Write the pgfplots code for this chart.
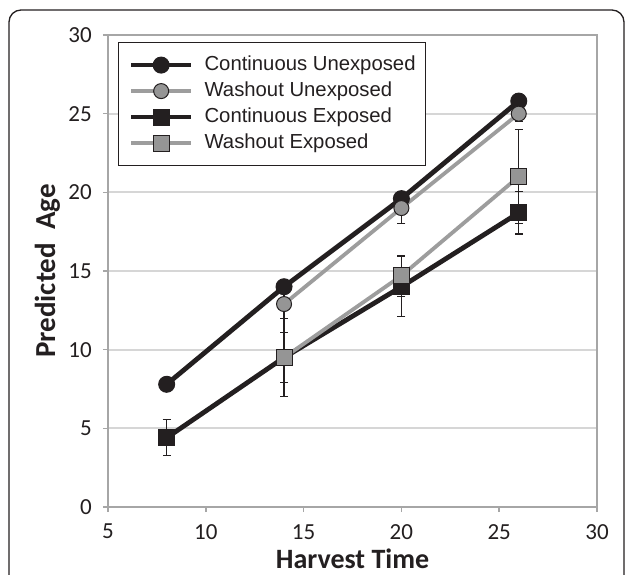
\documentclass[border=0pt]{standalone}
\usepackage{fontspec}
\setmainfont{Carlito}
\newfontfamily\arial{Liberation Sans}
\usepackage{pgfplots}
\pgfplotsset{compat=1.18}

\definecolor{axgray}{HTML}{A6A6A6}
\definecolor{gridgray}{HTML}{D6D6D6}
\definecolor{darkline}{HTML}{231F20}
\definecolor{lightline}{HTML}{9D9D9D}
\definecolor{markgray}{HTML}{959595}

\begin{document}
\begin{tikzpicture}[x=1pt,y=1pt]
\useasboundingbox (0,0) rectangle (627,574);
% outer frame, open at the bottom (cut by the page)
\draw[line width=1.3pt, darkline, rounded corners=12pt] (9,-30) -- (9,564) -- (624,564) -- (624,-30);
\begin{axis}[
  at={(108pt,67pt)}, anchor=south west,
  scale only axis, width=489pt, height=472pt,
  xmin=5, xmax=30, ymin=0, ymax=30,
  xtick={5,10,...,30}, ytick={0,5,...,30},
  axis line style={axgray, line width=2pt},
  ymajorgrids, grid style={gridgray, line width=1.8pt},
  tick align=outside, xtick pos=bottom, ytick pos=left,
  major tick length=5pt, tick style={axgray, line width=1.5pt},
  /pgf/number format/assume math mode=true,
  ticklabel style={font=\fontsize{23}{23}\selectfont, text=darkline, inner sep=0pt},
  xticklabel style={anchor=north, yshift=-12pt},
  yticklabel style={anchor=east, xshift=-11pt},
  xlabel={Harvest Time},
  ylabel={Predicted\ \ Age},
  xlabel style={font=\fontsize{28}{28}\selectfont\bfseries, text=darkline, inner sep=0pt,
    at={([yshift=-42pt]axis description cs:0.5,0)}, anchor=north},
  ylabel style={font=\fontsize{29}{29}\selectfont\bfseries, text=darkline, inner sep=0pt,
    at={([xshift=-53pt]axis description cs:0,0.5)}, anchor=base},
  legend style={at={(axis description cs:0.021,0.985)}, anchor=north west,
    draw=darkline, line width=1pt, fill=white,
    inner xsep=10pt, inner ysep=13pt, row sep=7pt, column sep=11pt,
    font=\arial\fontsize{20.3}{24}\selectfont, text=darkline,
    nodes={inner sep=0pt, text height=14.5pt, text depth=4.5pt}},
  legend cell align=left,
  legend image code/.code={\draw[mark repeat=2,mark phase=2,#1] plot coordinates {(0pt,0pt) (30pt,0pt) (60pt,0pt)};},
]
% Continuous Unexposed
\addplot[darkline, line width=4.8pt, mark=*, mark size=8pt,
  mark options={fill=darkline, draw=darkline, line width=1pt}] table {
8 7.8
14 14.0
20 19.6
26 25.8
};
\addlegendentry{Continuous Unexposed}

% Washout Unexposed
\addplot[lightline, line width=3.8pt, mark=*, mark size=7.5pt,
  mark options={fill=markgray, draw=darkline, line width=1pt},
  error bars/.cd, y dir=both, y explicit,
  error bar style={darkline, line width=1.2pt},
  error mark options={rotate=90, mark size=4pt, darkline, line width=1.2pt}]
  table[x index=0, y index=1, y error index=2] {
14 12.9 0.9
20 19.0 1.0
26 25.0 0.5
};
\addlegendentry{Washout Unexposed}

% Continuous Exposed
\addplot[darkline, line width=4.8pt, mark=square*, mark size=8pt,
  mark options={fill=darkline, draw=darkline, line width=1pt},
  error bars/.cd, y dir=both, y explicit,
  error bar style={darkline, line width=1.2pt},
  error mark options={rotate=90, mark size=4pt, darkline, line width=1.2pt}]
  table[x index=0, y index=1, y error index=2] {
8 4.4 1.15
14 9.5 1.6
20 14.0 1.9
26 18.7 1.35
};
\addlegendentry{Continuous Exposed}

% Washout Exposed
\addplot[lightline, line width=3.8pt, mark=square*, mark size=8pt,
  mark options={fill=markgray, draw=darkline, line width=1pt},
  error bars/.cd, y dir=both, y explicit,
  error bar style={darkline, line width=1.2pt},
  error mark options={rotate=90, mark size=4pt, darkline, line width=1.2pt}]
  table[x index=0, y index=1, y error index=2] {
14 9.5 2.5
20 14.7 1.3
26 21.0 3.0
};
\addlegendentry{Washout Exposed}
\end{axis}
\end{tikzpicture}
\end{document}
